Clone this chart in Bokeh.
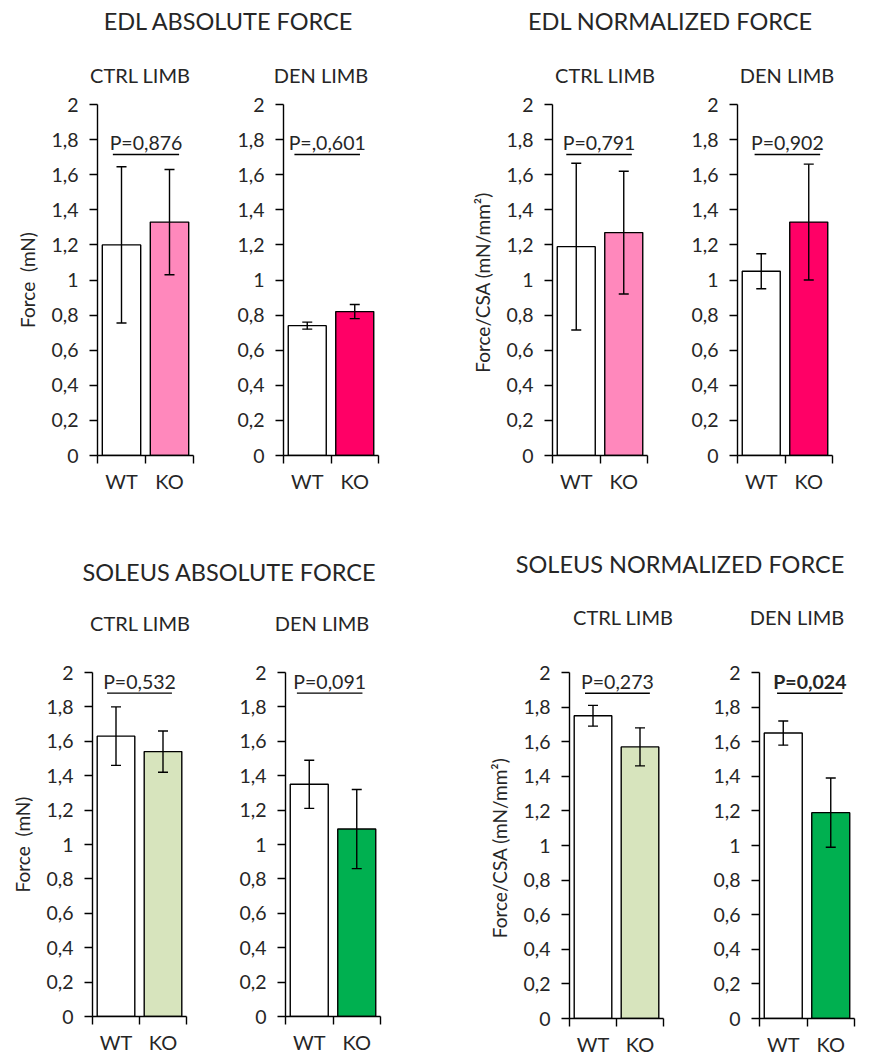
from bokeh.plotting import figure
from bokeh.models import (Range1d, FixedTicker, CustomJSTickFormatter, Whisker, TeeHead,
                          ColumnDataSource, Div)
from bokeh.layouts import column, row
from bokeh.core.properties import value
from bokeh.embed import file_html
from bokeh.resources import INLINE

# ---------------- data ----------------
groups = ["WT", "KO"]
y_ticks = [0, 0.2, 0.4, 0.6, 0.8, 1.0, 1.2, 1.4, 1.6, 1.8, 2.0]

edl_abs_ctrl_mean = [1.20, 1.33]
edl_abs_ctrl_err = [0.445, 0.30]
edl_abs_den_mean = [0.74, 0.82]
edl_abs_den_err = [0.02, 0.04]

edl_norm_ctrl_mean = [1.19, 1.27]
edl_norm_ctrl_err = [0.475, 0.35]
edl_norm_den_mean = [1.05, 1.33]
edl_norm_den_err = [0.10, 0.33]

sol_abs_ctrl_mean = [1.63, 1.54]
sol_abs_ctrl_err = [0.17, 0.12]
sol_abs_den_mean = [1.35, 1.09]
sol_abs_den_err = [0.14, 0.23]

sol_norm_ctrl_mean = [1.75, 1.57]
sol_norm_ctrl_err = [0.06, 0.11]
sol_norm_den_mean = [1.65, 1.19]
sol_norm_den_err = [0.07, 0.20]

p_texts = ["P=0,876", "P=,0,601", "P=0,791", "P=0,902",
           "P=0,532", "P=0,091", "P=0,273", "P=0,024"]
p_bold = [False, False, False, False, False, False, False, True]

main_titles = ["EDL ABSOLUTE FORCE", "EDL NORMALIZED FORCE",
               "SOLEUS ABSOLUTE FORCE", "SOLEUS NORMALIZED FORCE"]
sub_titles = ["CTRL LIMB", "DEN LIMB"]
y_label_abs = "Force\u00a0 (mN)"
y_label_norm = "Force/CSA  (mN/mm²)"

# ---------------- styles ----------------
FONT = "Lato"
TXT = "#262626"
WT_COLOR = "#FFFFFF"
KO_COLORS = ["#FF88BC", "#FF0066", "#FF88BC", "#FF0066",
             "#D7E4BD", "#00B050", "#D7E4BD", "#00B050"]
LW = 1.4


def panel(means, errs, ko_color, ptxt, bold, ylabel, p_x, p_y, line_y,
          fw, fh, bl, br, bt, bb):
    p = figure(frame_width=fw, frame_height=fh, min_border_left=bl, min_border_right=br,
               min_border_top=bt, min_border_bottom=bb,
               x_range=Range1d(0, len(groups)), y_range=Range1d(0, 2),
               toolbar_location=None, output_backend="svg", margin=0)
    p.outline_line_color = None
    p.xgrid.grid_line_color = None
    p.ygrid.grid_line_color = None
    p.background_fill_color = "white"
    p.border_fill_color = "white"

    xs = [i + 0.5 for i in range(len(groups))]
    src = ColumnDataSource(dict(
        x=xs, top=means,
        upper=[m + e for m, e in zip(means, errs)],
        lower=[m - e for m, e in zip(means, errs)],
        color=[WT_COLOR, ko_color]))
    p.vbar(x="x", top="top", bottom=0, width=0.8, source=src,
           fill_color="color", line_color="black", line_width=LW)
    w = Whisker(base="x", upper="upper", lower="lower", source=src, level="overlay",
                line_color="black", line_width=LW,
                upper_head=TeeHead(size=10, line_color="black", line_width=LW),
                lower_head=TeeHead(size=10, line_color="black", line_width=LW))
    p.add_layout(w)

    # p-value annotation
    p.text(x=[p_x], y=[p_y], text=[ptxt], text_align="center", text_baseline="middle",
           text_font=value(FONT), text_font_size="19.5px", text_color=TXT,
           text_font_style="bold" if bold else "normal")
    p.segment(x0=[p_x - 0.69], x1=[p_x + 0.69], y0=[line_y], y1=[line_y],
              line_color="black", line_width=LW)

    # y axis
    ya = p.yaxis[0]
    ya.ticker = FixedTicker(ticks=y_ticks)
    ya.formatter = CustomJSTickFormatter(
        code="return tick.toFixed(1).replace(/\\.0$/, '').replace('.', ',');")
    ya.major_tick_in = 0
    ya.major_tick_out = 8
    ya.minor_tick_line_color = None
    ya.major_label_standoff = 11
    ya.axis_line_width = LW
    ya.axis_line_color = "black"
    ya.major_tick_line_color = "black"
    ya.major_tick_line_width = LW
    ya.major_label_text_font = FONT
    ya.major_label_text_font_size = "19.5px"
    ya.major_label_text_color = TXT
    if ylabel:
        ya.axis_label = ylabel
        ya.axis_label_standoff = 9
        ya.axis_label_text_font = FONT
        ya.axis_label_text_font_size = "19px"
        ya.axis_label_text_font_style = "normal"
        ya.axis_label_text_color = TXT

    # x axis
    xa = p.xaxis[0]
    xa.ticker = FixedTicker(ticks=xs, minor_ticks=list(range(len(groups) + 1)))
    xa.formatter = CustomJSTickFormatter(args=dict(labels=groups),
                                         code="return labels[Math.floor(tick)];")
    xa.major_tick_line_color = None
    xa.minor_tick_in = 0
    xa.minor_tick_out = 8
    xa.minor_tick_line_color = "black"
    xa.minor_tick_line_width = LW
    xa.axis_line_width = LW
    xa.axis_line_color = "black"
    xa.major_label_standoff = 5
    xa.major_label_text_font = FONT
    xa.major_label_text_font_size = "20px"
    xa.major_label_text_color = TXT
    return p


def header(items, h):
    spans = "".join(
        f'<span style="position:absolute;left:{x}px;top:{y}px;transform:translate(-50%,-50%);'
        f'white-space:nowrap;font-family:{FONT};font-size:{fs}px;color:{TXT};">{t}</span>'
        for t, x, y, fs in items)
    return Div(text=f'<div style="position:relative;width:859px;height:{h}px;">{spans}</div>',
               width=859, height=h, margin=0)


top_header = header([
    (main_titles[0], 220, 14, 23.5), (main_titles[1], 662, 14, 23.5),
    (sub_titles[0], 132, 67, 20), (sub_titles[1], 313, 67, 20),
    (sub_titles[0], 597, 67, 20), (sub_titles[1], 779, 67, 20),
], 84)

bottom_header = header([
    (main_titles[2], 221, 73, 23.5), (main_titles[3], 672, 65, 23.5),
    (sub_titles[0], 132, 123, 20), (sub_titles[1], 314, 123, 20),
    (sub_titles[0], 615, 117, 20), (sub_titles[1], 789, 117, 20),
], 158)

TOP_PY, TOP_LY = 1.785, 1.715
BOT_PY, BOT_LY = 1.95, 1.88

pA = panel(edl_abs_ctrl_mean, edl_abs_ctrl_err, KO_COLORS[0], p_texts[0], p_bold[0], y_label_abs,
           1.01, TOP_PY, TOP_LY, 96, 351, 89, 35, 12, 45)
pB = panel(edl_abs_den_mean, edl_abs_den_err, KO_COLORS[1], p_texts[1], p_bold[1], None,
           0.92, TOP_PY, TOP_LY, 95, 351, 55, 85, 12, 45)
pC = panel(edl_norm_ctrl_mean, edl_norm_ctrl_err, KO_COLORS[2], p_texts[2], p_bold[2], y_label_norm,
           0.98, TOP_PY, TOP_LY, 95, 351, 89, 35, 12, 45)
pD = panel(edl_norm_den_mean, edl_norm_den_err, KO_COLORS[3], p_texts[3], p_bold[3], None,
           1.05, TOP_PY, TOP_LY, 95, 351, 55, 10, 12, 45)

pE = panel(sol_abs_ctrl_mean, sol_abs_ctrl_err, KO_COLORS[4], p_texts[4], p_bold[4], y_label_abs,
           1.0, BOT_PY, BOT_LY, 94, 344, 81, 44, 14, 35)
pF = panel(sol_abs_den_mean, sol_abs_den_err, KO_COLORS[5], p_texts[5], p_bold[5], None,
           0.93, BOT_PY, BOT_LY, 95, 344, 55, 100, 14, 35)
pG = panel(sol_norm_ctrl_mean, sol_norm_ctrl_err, KO_COLORS[6], p_texts[6], p_bold[6], y_label_norm,
           1.02, BOT_PY, BOT_LY, 94, 346, 89, 41, 12, 35)
pH = panel(sol_norm_den_mean, sol_norm_den_err, KO_COLORS[7], p_texts[7], p_bold[7], None,
           1.06, BOT_PY, BOT_LY, 95, 346, 55, 10, 12, 35)

layout = column(top_header, row(pA, pB, pC, pD, spacing=0), bottom_header,
                row(pE, pF, pG, pH, spacing=0), spacing=0, margin=(8, 0, 0, 8))

open("out.html", "w").write(file_html(layout, INLINE))
